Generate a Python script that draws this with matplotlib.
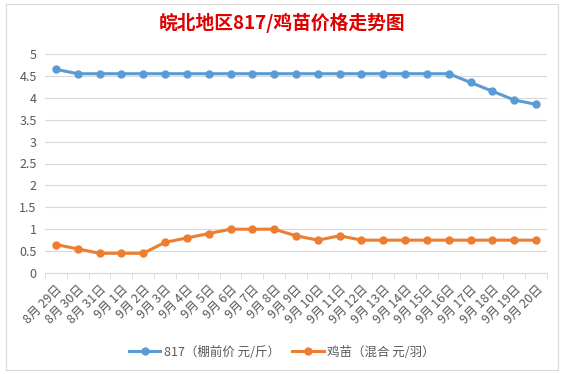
import matplotlib.pyplot as plt
from matplotlib.lines import Line2D

plt.rcParams['font.family'] = ['Noto Sans CJK SC', 'DejaVu Sans']

# 日期
dates = ['8月 29日', '8月 30日', '8月 31日'] + ['9月 %d日' % d for d in range(1, 21)]
# 817 棚前价 元/斤
price_817 = [4.65] + [4.55] * 18 + [4.35, 4.15, 3.95, 3.85]
# 鸡苗 混合 元/羽
price_chick = [0.65, 0.55, 0.45, 0.45, 0.45, 0.7, 0.8, 0.9, 1.0, 1.0, 1.0,
               0.85, 0.75, 0.85] + [0.75] * 9
yticks = [0, 0.5, 1, 1.5, 2, 2.5, 3, 3.5, 4, 4.5, 5]

blue = '#5b9bd5'
orange = '#ed7d31'
grey = '#595959'

fig = plt.figure(figsize=(5.64, 3.74), dpi=100)
ax = fig.add_axes([45 / 564, 1 - 273 / 374, 502 / 564, 219 / 374])

x = list(range(len(dates)))
ax.plot(x, price_817, color=blue, lw=2.2, marker='o', ms=5, label='817（棚前价 元/斤）')
ax.plot(x, price_chick, color=orange, lw=2.2, marker='o', ms=5, label='鸡苗（混合 元/羽）')

ax.set_xlim(-0.5, len(dates) - 0.5)
ax.set_ylim(0, 5)
ax.set_yticks(yticks)
ax.set_yticklabels([('%g' % v) for v in yticks], color=grey, fontsize=9)
ax.set_xticks(x)
ax.set_xticklabels(dates, rotation=45, ha='right', rotation_mode='anchor',
                   color=grey, fontsize=9)
ax.set_xticks([i - 0.5 for i in range(len(dates) + 1)], minor=True)
ax.tick_params(axis='x', which='major', length=0, pad=7)
ax.tick_params(axis='x', which='minor', length=4, color='#d9d9d9')
ax.tick_params(axis='y', length=0, pad=6)
ax.grid(axis='y', color='#d9d9d9', lw=0.8)
ax.set_axisbelow(True)
for s in ['top', 'right', 'left']:
    ax.spines[s].set_visible(False)
ax.spines['bottom'].set_color('#d9d9d9')

fig.text(0.5, 1 - 23 / 374, '皖北地区817/鸡苗价格走势图', color='#e00000',
         fontsize=13.5, fontweight='bold', ha='center', va='center')

fig.legend(loc='center', bbox_to_anchor=(0.5, 1 - 352 / 374), ncol=2, frameon=False,
           fontsize=9, labelcolor=grey, handlelength=2.5, columnspacing=1.0,
           handletextpad=0.3)

# 图表边框
fig.add_artist(Line2D([0.01, 0.99, 0.99, 0.01, 0.01], [0.01, 0.01, 0.99, 0.99, 0.01],
                      transform=fig.transFigure, color='#d9d9d9', lw=0.8))

fig.savefig('out.png', dpi=100)
